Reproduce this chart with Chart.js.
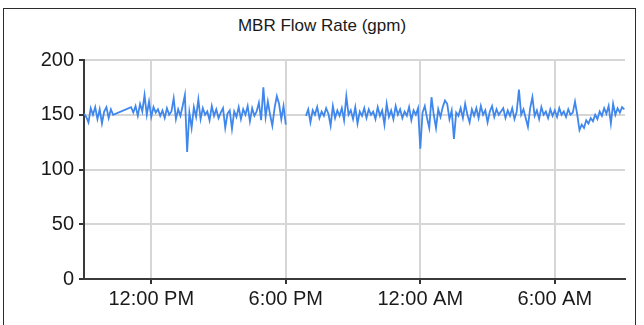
<!DOCTYPE html>
<html>
<head>
<meta charset="utf-8">
<script src="https://cdn.jsdelivr.net/npm/chart.js@4.4.1/dist/chart.umd.min.js"></script>
<style>
  html, body { margin: 0; padding: 0; background: #fff; }
  #wrap { position: relative; width: 644px; height: 325px; overflow: hidden; }
  #frame { position: absolute; left: 3px; top: 8px; width: 633px; height: 330px; border: 1px solid #2b2b2b; box-sizing: border-box; }
  #title { position: absolute; left: 0; width: 644px; top: 16px; text-align: center;
           font: 17px "Liberation Sans", Arial, sans-serif; color: #1a1a1a; }
  #chart { position: absolute; left: 0; top: 0; }
</style>
</head>
<body>
<div id="wrap">
  <div id="frame"></div>
  <div id="title">MBR Flow Rate (gpm)</div>
  <canvas id="chart" width="644" height="325"></canvas>
</div>
<script>
// flow samples, one every 0.1 h (hours since midnight of day 1)
const sampleStep = 0.1;
const seg1Start = 9.0;
const seg1 = [151, 148, 143, 156, 150, 157, 146, 155, 142, 153, 157, 147, 155, 150];
const seg2Start = 11.1;
const seg2 = [157, 152, 158, 149, 160, 153, 168, 150, 162, 148,
              157, 152, 155, 149, 154, 147, 156, 150, 153, 165,
              146, 155, 149, 158, 168, 116, 152, 138, 157, 148,
              164, 146, 156, 150, 153, 145, 158, 149, 155, 147,
              152, 156, 138, 151, 154, 137, 153, 148, 157, 146,
              155, 150, 158, 144, 156, 149, 153, 161, 145, 175,
              148, 162, 150, 140, 156, 167, 160, 146, 158, 141];
const gapHour = 18.45; // no data around 6 PM
const seg3Start = 18.9;
const seg3 = [149, 155, 143, 154, 150, 157, 147, 153, 149, 156,
              151, 140, 158, 147, 154, 149, 156, 145, 167, 150,
              154, 146, 157, 142, 153, 149, 156, 147, 155, 150,
              153, 146, 157, 149, 154, 141, 160, 148, 154, 146,
              158, 150, 155, 147, 153, 149, 157, 145, 154, 150,
              156, 119, 152, 158, 147, 138, 166, 150, 138, 155,
              148, 157, 163, 160, 146, 154, 128, 152, 149, 156,
              147, 160, 150, 143, 155, 149, 156, 147, 158, 150,
              154, 143, 153, 158, 148, 155, 150, 153, 156, 147,
              154, 149, 156, 146, 153, 173, 150, 155, 147, 139,
              156, 166, 149, 154, 146, 157, 150, 153, 147, 155,
              149, 154, 148, 156, 150, 153, 148, 155, 150, 152,
              162, 150, 136, 141, 138, 145, 142, 147, 144, 150,
              146, 153, 149, 156, 151, 158, 142, 160, 150, 156,
              152, 157, 155];

const xMin = 9.0;
const xMax = 33.13;
const xTickHours = [12, 18, 24, 30];
const xTickLabels = ['12:00 PM', '6:00 PM', '12:00 AM', '6:00 AM'];
const yTicks = [0, 50, 100, 150, 200];

function toPoints(start, values) {
    return values.map((v, i) => ({ x: start + i * sampleStep, y: v }));
}

const flowPoints = [
    ...toPoints(seg1Start, seg1),
    ...toPoints(seg2Start, seg2),
    { x: gapHour, y: null },
    ...toPoints(seg3Start, seg3)
];

const tickFont = { family: '"Liberation Sans", Arial, sans-serif', size: 20 };

new Chart(document.getElementById('chart'), {
    type: 'line',
    data: {
        datasets: [{
            label: 'MBR Flow Rate (gpm)',
            data: flowPoints,
            borderColor: '#3f87ec',
            borderWidth: 1.8,
            pointRadius: 0,
            tension: 0,
            spanGaps: false
        }]
    },
    options: {
        responsive: false,
        animation: false,
        layout: { padding: { top: 60, right: 19, left: 0, bottom: 0 } },
        plugins: {
            legend: { display: false },
            title: { display: false },
            tooltip: { enabled: false }
        },
        scales: {
            x: {
                type: 'linear',
                min: xMin,
                max: xMax,
                afterBuildTicks: scale => {
                    scale.ticks = xTickHours.map(v => ({ value: v }));
                },
                afterFit: scale => { scale.height = 46; },
                ticks: {
                    autoSkip: false,
                    maxRotation: 0,
                    padding: 3,
                    color: '#1a1a1a',
                    font: tickFont,
                    callback: v => xTickLabels[xTickHours.indexOf(v)]
                },
                grid: { color: '#d6d6d6', lineWidth: 2, tickColor: '#333', tickLength: 5 },
                border: { color: '#3a3a3a', width: 2 }
            },
            y: {
                min: 0,
                max: 200,
                afterBuildTicks: scale => {
                    scale.ticks = yTicks.map(v => ({ value: v }));
                },
                afterFit: scale => { scale.width = 84; },
                ticks: {
                    padding: 5,
                    color: '#1a1a1a',
                    font: tickFont
                },
                grid: { color: '#d6d6d6', lineWidth: 2, tickColor: '#333', tickLength: 5 },
                border: { color: '#3a3a3a', width: 2 }
            }
        }
    }
});
</script>
</body>
</html>
